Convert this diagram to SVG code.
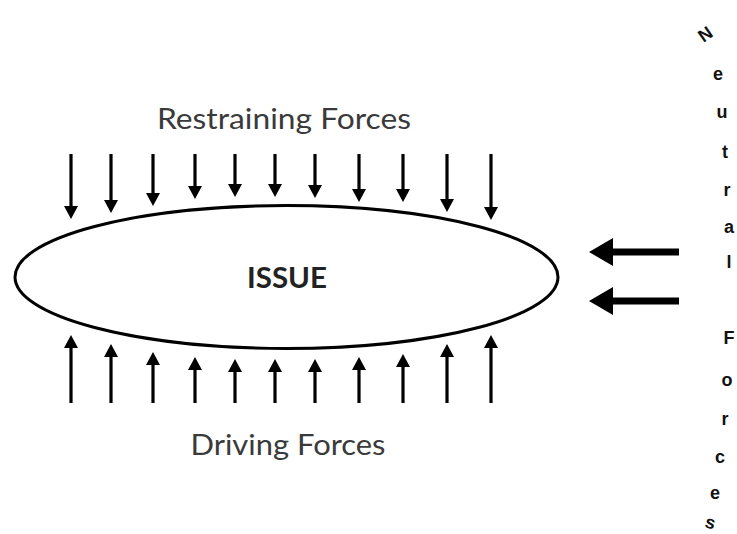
<svg xmlns="http://www.w3.org/2000/svg" width="737" height="534" viewBox="0 0 737 534">
<style>
.lbl{font-family:Lato,"Liberation Sans",sans-serif;font-size:28px;fill:#3a3a3a}
.issue{font-family:Lato,"Liberation Sans",sans-serif;font-size:29px;font-weight:bold;fill:#222}
.force{stroke:#000;stroke-width:3.2;fill:none;marker-end:url(#ah)}
.nforce{stroke:#000;stroke-width:7;fill:none;marker-end:url(#bh)}
.side{font-family:"Liberation Sans",Arial,sans-serif;font-size:18px;font-weight:bold;fill:#111}
</style>
<defs>
<marker id="ah" viewBox="0 0 13 14" refX="8" refY="7" markerWidth="13" markerHeight="14" markerUnits="userSpaceOnUse" orient="auto">
<path d="M0,0 L13,7 L0,14 Z" fill="#000"/>
</marker>
<marker id="bh" viewBox="0 0 24 28" refX="13" refY="14" markerWidth="24" markerHeight="28" markerUnits="userSpaceOnUse" orient="auto">
<path d="M0,0 L24,14 L0,28 Z" fill="#000"/>
</marker>
</defs>
<rect width="737" height="534" fill="#fff"/>
<g id="issue">
<ellipse cx="286.5" cy="277" rx="271.5" ry="71.5" fill="#fff" stroke="#000" stroke-width="3"/>
<text class="issue" x="287" y="288" text-anchor="middle" textLength="80" lengthAdjust="spacingAndGlyphs">ISSUE</text>
</g>
<g id="restraining-label">
<text class="lbl" x="284" y="129" text-anchor="middle" textLength="254" lengthAdjust="spacingAndGlyphs">Restraining Forces</text>
</g>
<g id="driving-label">
<text class="lbl" x="288" y="455" text-anchor="middle" textLength="195" lengthAdjust="spacingAndGlyphs">Driving Forces</text>
</g>
<g id="neutral-label">
<text class="side" text-anchor="middle">
<tspan x="710" y="43" rotate="-35">N</tspan><tspan x="718" y="80">e</tspan><tspan x="722" y="118">u</tspan><tspan x="725" y="158">t</tspan><tspan x="727" y="196">r</tspan><tspan x="729" y="233">a</tspan><tspan x="729" y="268">l</tspan><tspan x="729" y="300"> </tspan><tspan x="729" y="344">F</tspan><tspan x="727" y="386">o</tspan><tspan x="725" y="425">r</tspan><tspan x="720" y="463">c</tspan><tspan x="715" y="499">e</tspan><tspan x="709" y="527" rotate="15">s</tspan>
</text>
</g>
<g id="connectors">
<line class="force" x1="71" y1="154" x2="71" y2="214"/>
<line class="force" x1="111" y1="154" x2="111" y2="208"/>
<line class="force" x1="153" y1="154" x2="153" y2="201"/>
<line class="force" x1="195" y1="154" x2="195" y2="194"/>
<line class="force" x1="235" y1="154" x2="235" y2="192"/>
<line class="force" x1="275" y1="154" x2="275" y2="192"/>
<line class="force" x1="315" y1="154" x2="315" y2="193"/>
<line class="force" x1="359" y1="154" x2="359" y2="197"/>
<line class="force" x1="403" y1="154" x2="403" y2="197"/>
<line class="force" x1="447" y1="154" x2="447" y2="207"/>
<line class="force" x1="491" y1="154" x2="491" y2="215"/>
<line class="force" x1="71" y1="403" x2="71" y2="340"/>
<line class="force" x1="111" y1="403" x2="111" y2="349"/>
<line class="force" x1="153" y1="403" x2="153" y2="357"/>
<line class="force" x1="195" y1="403" x2="195" y2="362"/>
<line class="force" x1="235" y1="403" x2="235" y2="364"/>
<line class="force" x1="275" y1="403" x2="275" y2="364"/>
<line class="force" x1="315" y1="403" x2="315" y2="364"/>
<line class="force" x1="359" y1="403" x2="359" y2="362"/>
<line class="force" x1="403" y1="403" x2="403" y2="359"/>
<line class="force" x1="447" y1="403" x2="447" y2="349"/>
<line class="force" x1="491" y1="403" x2="491" y2="340"/>
<line class="nforce" x1="679" y1="252" x2="600" y2="252"/>
<line class="nforce" x1="679" y1="301" x2="600" y2="301"/>
</g>
</svg>
